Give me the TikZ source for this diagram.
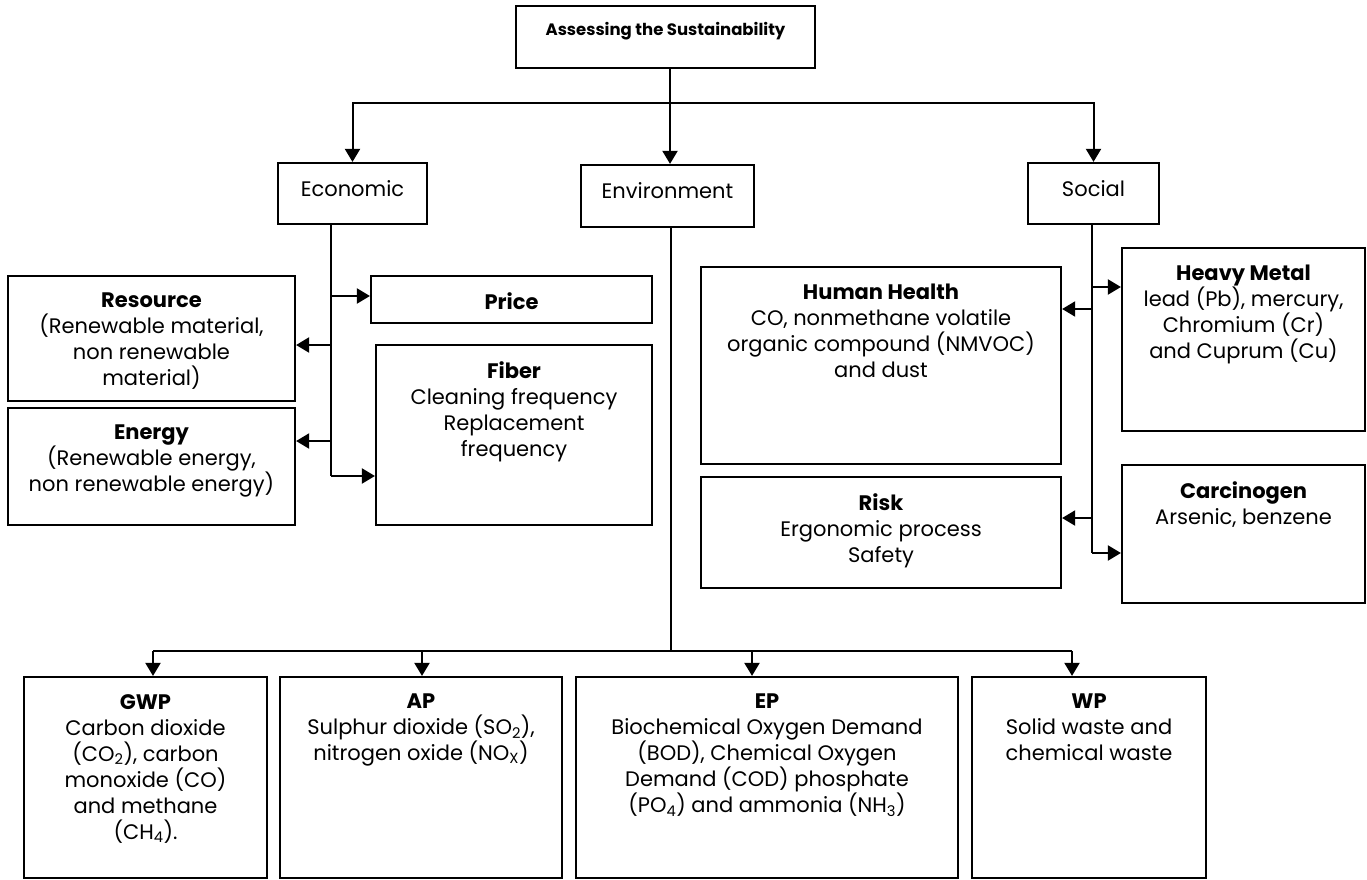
\documentclass[tikz,border=0pt]{standalone}
\usepackage{fontspec}
\setmainfont{Poppins}
\usetikzlibrary{arrows.meta,fit}
\newcommand\mkbox[5]{\node[bx, fit={(#2,#3) (#4,#5)}] (#1) {};}
\begin{document}
\begin{tikzpicture}[x=1pt,y=-1pt,
  bx/.style={draw, line width=2.2pt, inner sep=0pt},
  conn/.style={line width=2pt},
  arr/.style={conn, -{Triangle[length=13pt,width=15pt]}},
  txt/.style={align=center, inner sep=0pt, anchor=north, font=\fontsize{21}{26}\selectfont},
  ttl/.style={align=center, inner sep=0pt, anchor=north, font=\fontsize{16.5}{20}\selectfont\bfseries}]
\useasboundingbox (0,0) rectangle (1367,880);
% boxes
\mkbox{top}{516}{6}{815}{68}
\mkbox{econ}{278}{163}{427}{224}
\mkbox{env}{581}{165}{754}{227}
\mkbox{soc}{1028}{163}{1159}{224}
\mkbox{price}{371}{276}{652}{323}
\mkbox{fiber}{376}{345}{652}{525}
\mkbox{resource}{8}{276}{295}{401}
\mkbox{energy}{8}{408}{295}{525}
\mkbox{hh}{701}{267}{1061}{464}
\mkbox{risk}{701}{477}{1061}{588}
\mkbox{heavy}{1122}{248}{1365}{431}
\mkbox{carc}{1122}{465}{1365}{603}
\mkbox{gwp}{24}{677}{267}{878}
\mkbox{ap}{280}{677}{562}{878}
\mkbox{ep}{576}{677}{958}{878}
\mkbox{wp}{972}{677}{1206}{878}
% texts
\node[ttl] (ttop) at ([yshift=-17pt]top.north) {Assessing the Sustainability};
\node[txt] (tecon) at ([yshift=-18pt]econ.north) {Economic};
\node[txt] (tenv) at ([yshift=-18pt]env.north) {Environment};
\node[txt] (tsoc) at ([yshift=-18pt]soc.north) {Social};
\node[txt] (tprice) at ([yshift=-18pt]price.north) {\textbf{Price}};
\node[txt] (tfiber) at ([yshift=-18pt]fiber.north) {\textbf{Fiber}\\Cleaning frequency\\Replacement\\frequency};
\node[txt] (tres) at ([yshift=-18pt]resource.north) {\textbf{Resource}\\(Renewable material,\\non renewable\\material)};
\node[txt] (tene) at ([yshift=-18pt]energy.north) {\textbf{Energy}\\(Renewable energy,\\non renewable energy)};
\node[txt] (thh) at ([yshift=-18pt]hh.north) {\textbf{Human Health}\\CO, nonmethane volatile\\organic compound (NMVOC)\\and dust};
\node[txt] (trisk) at ([yshift=-18pt]risk.north) {\textbf{Risk}\\Ergonomic process\\Safety};
\node[txt] (theavy) at ([yshift=-18pt]heavy.north) {\textbf{Heavy Metal}\\lead (Pb), mercury,\\Chromium (Cr)\\and Cuprum (Cu)};
\node[txt] (tcarc) at ([yshift=-18pt]carc.north) {\textbf{Carcinogen}\\Arsenic, benzene};
\node[txt] (tgwp) at ([yshift=-18pt]gwp.north) {\textbf{GWP}\\Carbon dioxide\\(CO\textsubscript{2}), carbon\\monoxide (CO)\\and methane\\(CH\textsubscript{4}).};
\node[txt] (tap) at ([yshift=-18pt]ap.north) {\textbf{AP}\\Sulphur dioxide (SO\textsubscript{2}),\\nitrogen oxide (NO\textsubscript{X})};
\node[txt] (tep) at ([yshift=-18pt]ep.north) {\textbf{EP}\\Biochemical Oxygen Demand\\(BOD), Chemical Oxygen\\Demand (COD) phosphate\\(PO\textsubscript{4}) and ammonia (NH\textsubscript{3})};
\node[txt] (twp) at ([yshift=-18pt]wp.north) {\textbf{WP}\\Solid waste and\\chemical waste};
% top connectors
\coordinate (hub) at (670,103);
\draw[conn] (hub |- top.south) -- (hub);
\draw[arr] (hub) -| (econ.north);
\draw[arr] (hub) -| (soc.north);
\draw[arr] (hub) -- (hub |- env.north);
% economic branch
\coordinate (ea) at (331,296);
\coordinate (eb) at (331,345);
\coordinate (ec) at (331,441);
\coordinate (ed) at (331,476);
\draw[conn] (ea |- econ.south) -- (ed);
\draw[arr] (ea) -- (ea -| price.west);
\draw[arr] (eb) -- (eb -| resource.east);
\draw[arr] (ec) -- (ec -| energy.east);
\draw[arr] (ed) -- (ed -| fiber.west);
% social branch
\coordinate (sa) at (1092,287);
\coordinate (sb) at (1092,309);
\coordinate (sc) at (1092,518);
\coordinate (sd) at (1092,553);
\draw[conn] (sa |- soc.south) -- (sd);
\draw[arr] (sa) -- (sa -| heavy.west);
\draw[arr] (sb) -- (sb -| hh.east);
\draw[arr] (sc) -- (sc -| risk.east);
\draw[arr] (sd) -- (sd -| carc.west);
% environment branch
\coordinate (vh) at (671,651);
\coordinate (b1) at (153,651);
\coordinate (b2) at (422,651);
\coordinate (b3) at (752,651);
\coordinate (b4) at (1072,651);
\draw[conn] (vh |- env.south) -- (vh);
\draw[conn] (b1) -- (b4);
\draw[arr] (b1) -- (b1 |- gwp.north);
\draw[arr] (b2) -- (b2 |- ap.north);
\draw[arr] (b3) -- (b3 |- ep.north);
\draw[arr] (b4) -- (b4 |- wp.north);
\end{tikzpicture}
\end{document}
